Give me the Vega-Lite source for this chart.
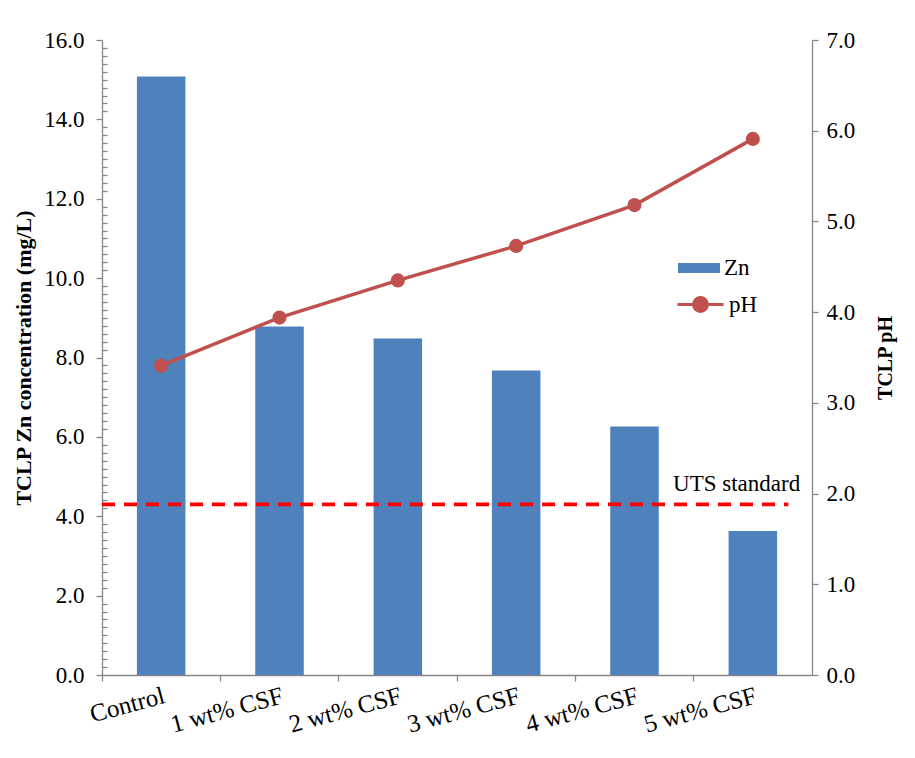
{
  "$schema": "https://vega.github.io/schema/vega-lite/v6.json",
  "width": 710,
  "height": 635,
  "autosize": {"type": "none"},
  "padding": {"left": 102, "top": 40, "right": 103, "bottom": 83},
  "background": "white",
  "config": {
    "view": {"stroke": null},
    "font": "Liberation Serif",
    "axis": {
      "labelFont": "Liberation Serif",
      "labelFontSize": 23,
      "labelColor": "#000000",
      "titleFont": "Liberation Serif",
      "titleFontSize": 22,
      "titleFontWeight": "bold",
      "titleColor": "#000000",
      "domainColor": "#868686",
      "domainWidth": 1.3,
      "tickColor": "#868686",
      "tickWidth": 1.3,
      "grid": false
    },
    "legend": {
      "labelFont": "Liberation Serif",
      "labelFontSize": 23,
      "labelColor": "#000000"
    }
  },
  "datasets": {
    "main": [
      {"sample": "Control", "Zn": 15.08, "pH": 3.41},
      {"sample": "1 wt% CSF", "Zn": 8.78, "pH": 3.94},
      {"sample": "2 wt% CSF", "Zn": 8.48, "pH": 4.35},
      {"sample": "3 wt% CSF", "Zn": 7.67, "pH": 4.73},
      {"sample": "4 wt% CSF", "Zn": 6.26, "pH": 5.18},
      {"sample": "5 wt% CSF", "Zn": 3.63, "pH": 5.91}
    ],
    "limit": [
      {"label": "UTS standard", "Zn": 4.3}
    ]
  },
  "data": {"name": "main"},
  "layer": [
    {
      "encoding": {
        "y": {
          "type": "quantitative",
          "title": "TCLP Zn concentration (mg/L)",
          "scale": {"domain": [0, 16], "nice": false},
          "axis": {
            "orient": "left",
            "values": [0, 0.2, 0.4, 0.6, 0.8, 1, 1.2, 1.4, 1.6, 1.8, 2, 2.2, 2.4, 2.6, 2.8, 3, 3.2, 3.4, 3.6, 3.8, 4, 4.2, 4.4, 4.6, 4.8, 5, 5.2, 5.4, 5.6, 5.8, 6, 6.2, 6.4, 6.6, 6.8, 7, 7.2, 7.4, 7.6, 7.8, 8, 8.2, 8.4, 8.6, 8.8, 9, 9.2, 9.4, 9.6, 9.8, 10, 10.2, 10.4, 10.6, 10.8, 11, 11.2, 11.4, 11.6, 11.8, 12, 12.2, 12.4, 12.6, 12.8, 13, 13.2, 13.4, 13.6, 13.8, 14, 14.2, 14.4, 14.6, 14.8, 15, 15.2, 15.4, 15.6, 15.8, 16],
            "labelExpr": "abs(datum.value/2 - round(datum.value/2)) < 0.001 ? format(datum.value, '.1f') : ''",
            "labelOverlap": false,
            "labelBound": false,
            "labelFlush": false,
            "labelPadding": 12,
            "tickSize": {"condition": {"test": "abs(datum.value/2 - round(datum.value/2)) < 0.001", "value": 6}, "value": -5},
            "titlePadding": 8
          }
        }
      },
      "layer": [
        {
          "mark": {"type": "bar", "width": {"band": 0.41}},
          "encoding": {
            "x": {
              "field": "sample",
              "type": "nominal",
              "sort": null,
              "title": null,
              "scale": {"paddingInner": 0, "paddingOuter": 0},
              "axis": {
                "bandPosition": 0,
                "labelAngle": -15,
                "labelAlign": "right",
                "labelBaseline": "top",
                "labelOffset": 0,
                "labelPadding": 2,
                "labelFontSize": 25,
                "tickSize": 6,
                "domain": true
              }
            },
            "y": {"field": "Zn"},
            "fill": {
              "datum": "Zn",
              "type": "nominal",
              "scale": {"domain": ["Zn"], "range": ["#4F81BD"]},
              "legend": {
                "title": null,
                "orient": "none",
                "legendX": 576,
                "legendY": 207,
                "symbolType": "M-1,-0.24H1V0.24H-1Z",
                "symbolSize": 1764,
                "symbolStrokeWidth": 0,
                "labelOffset": 4
              }
            }
          }
        },
        {
          "data": {"name": "limit"},
          "mark": {"type": "rule", "color": "#FF0000", "strokeWidth": 3.6, "strokeDash": [13, 9]},
          "encoding": {
            "y": {"field": "Zn"},
            "x": {"datum": "Control", "bandPosition": 0},
            "x2": {"datum": "5 wt% CSF", "bandPosition": 0.8}
          }
        },
        {
          "data": {"name": "limit"},
          "mark": {"type": "text", "align": "right", "baseline": "alphabetic", "dy": -13, "fontSize": 23, "fontWeight": "normal", "font": "Liberation Serif", "fill": "#000000"},
          "encoding": {
            "y": {"field": "Zn"},
            "x": {"datum": "5 wt% CSF", "bandPosition": 0.9},
            "text": {"field": "label"}
          }
        }
      ]
    },
    {
      "layer": [
        {
          "mark": {"type": "line", "strokeWidth": 3.5},
          "encoding": {
            "x": {"field": "sample", "type": "nominal", "sort": null},
            "y": {
              "field": "pH",
              "type": "quantitative",
              "title": "TCLP pH",
              "scale": {"domain": [0, 7], "nice": false},
              "axis": {
                "orient": "right",
                "values": [0, 1, 2, 3, 4, 5, 6, 7],
                "format": ".1f",
                "tickSize": 6,
                "labelPadding": 8,
                "titlePadding": 21,
                "titleAngle": 270,
                "titleBaseline": "top",
                "titleFontSize": 20
              }
            },
            "stroke": {
              "datum": "pH",
              "type": "nominal",
              "scale": {"domain": ["pH"], "range": ["#C0504D"]},
              "legend": {
                "title": null,
                "orient": "none",
                "legendX": 574,
                "legendY": 240,
                "symbolType": "M-1,0H1M0.3,0A0.3,0.3 0 1 1 -0.3,0A0.3,0.3 0 1 1 0.3,0Z",
                "symbolSize": 2116,
                "symbolStrokeWidth": 3,
                "symbolFillColor": "#C0504D",
                "labelOffset": 4
              }
            }
          }
        },
        {
          "mark": {"type": "point", "filled": true, "size": 200, "color": "#C0504D", "opacity": 1},
          "encoding": {
            "x": {"field": "sample", "type": "nominal", "sort": null},
            "y": {"field": "pH", "type": "quantitative"}
          }
        }
      ]
    }
  ],
  "resolve": {"scale": {"y": "independent"}}
}
